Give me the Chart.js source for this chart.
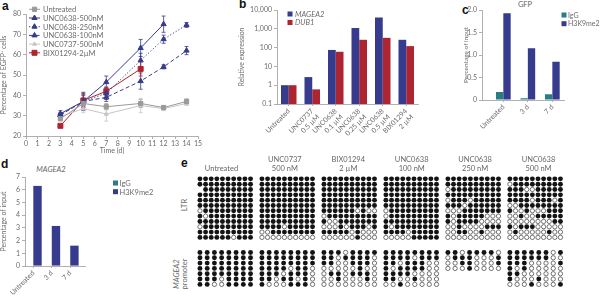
<!DOCTYPE html>
<html><head><meta charset="utf-8">
<script src="https://cdn.jsdelivr.net/npm/chart.js@4.4.0/dist/chart.umd.min.js"></script>
<style>
body{margin:0;width:600px;height:296px;position:relative;background:#fff;overflow:hidden;font-family:Lato,'Liberation Sans',sans-serif;}
canvas{position:absolute;}
.t{position:absolute;white-space:nowrap;color:#666;font-size:7.5px;line-height:9px;text-align:center;}
.L{position:absolute;font:bold 12px 'Liberation Sans',Arial,sans-serif;color:#111;line-height:12px;}
.rot{position:absolute;transform:rotate(-90deg);transform-origin:center center;white-space:nowrap;color:#666;font-size:7.5px;line-height:8px;text-align:center;}
</style></head><body>
<div class="L" style="left:2px;top:0px">a</div>
<div class="L" style="left:239px;top:-2px">b</div>
<div class="L" style="left:462px;top:4px">c</div>
<div class="L" style="left:1px;top:158px">d</div>
<div class="L" style="left:181px;top:157px">e</div>
<div class="t" style="left:510px;top:0px;width:30px">GFP</div>
<div class="t" style="left:30px;top:165px;width:42px;font-style:italic">MAGEA2</div>
<div class="rot" style="left:170px;top:201px;width:30px">LTR</div>
<div class="rot" style="left:151px;top:266px;width:60px"><i>MAGEA2</i><br>promoter</div>
<script>
// ---------- Panel a data ----------
const days = [3, 5, 7, 10, 12, 14];
const aNames = ['Untreated', 'UNC0638-500nM', 'UNC0638-250nM', 'UNC0638-100nM', 'UNC0737-500nM', 'BIX01294-2µM'];
const aUntreated = [28.5, 36, 34.4, 36, 34, 37];
const aUnc500 = [31, 37, 46.5, 63.3, 75, null];
const aUnc250 = [30.3, 37, 41, 57.2, 67.6, 74.6];
const aUnc100 = [30.3, 37, 39, 47, 54, 62];
const aUnc0737 = [29.5, 33.5, 30.8, 35, 33.5, 36];
const aBix = [25, 37.5, 42, 53, null, null];
const errUntreated = [1, 2, 1.5, 2, 1, 1.2];
const errUnc500 = [1.5, 4.5, 3, 4.2, 4, null];
const errUnc250 = [1, 4, 3, 3.5, 2, 1.2];
const errUnc100 = [1, 3, 2, 4, 1, 2];
const errUnc0737 = [1, 2, 3.5, 3.5, 1, 1];
const errBix = [0.5, 3, 2, 3.5, null, null];

// ---------- Panel b data ----------
const bCats = [['Untreated'], ['UNC0737', '0.5 µM'], ['UNC0638', '0.1 µM'], ['UNC0638', '0.25 µM'], ['UNC0638', '0.5 µM'], ['BIX01294', '2 µM']];
const bMagea2 = [1, 2.7, 75, 1100, 4000, 260];
const bDub1 = [1, 0.6, 60, 260, 330, 120];
const bTicks = [0.1, 1, 10, 100, 1000, 10000];

// ---------- Panel c data ----------
const cCats = ['Untreated', '3 d', '7 d'];
const cIgG = [0.18, 0.04, 0.13];
const cH3K9 = [1.93, 1.15, 0.85];

// ---------- Panel d data ----------
const dCats = ['Untreated', '3 d', '7 d'];
const dIgG = [0, 0, 0];
const dH3K9 = [6.3, 3.15, 1.6];

// ---------- Panel e data (1 = methylated, 0 = unmethylated, ' ' = no read) ----------
const eGroups = [['Untreated'], ['UNC0737', '500 nM'], ['BIX01294', '2 µM'], ['UNC0638', '100 nM'], ['UNC0638', '250 nM'], ['UNC0638', '500 nM']];
const eLTR = [
 ['1111111111','1111111111',' 111111111','1111111111','1111111111','1111111111','0111111111','1011111111','1111111111','0111111111','1111111111','1111110111'],
 ['1111111111','1111111111','1111111111','1111111111','1111111111','1111111111','1111111111','1111111111','1111111111','1111011111','0011111111','0000000000'],
 ['1111111111','1111111111','1111111111','1111111111','1111111111','1111111111','1111110100','0111111111','1001111111','0001011101','1111101000','0000001000'],
 ['1111111111','1111111111','1111111111','1111111111','1111111111','1111111111','0111111111','0111111111','1111111111','1011111111','1111011111','0000011111'],
 ['1111111111','1111111111','0111111111','1111111111','0111011111','1110111111','0001111111','1011111000','1011110000','0010000111','0011001000','0000000000'],
 ['1111111111','0111111111','1110011111','1111111111','1111011101','0011111111','1001000111','0010011111','0000000011','1011100000','0100000100','0000000000']
];
const eMAGEA2 = [
 ['11111111','11111111','11111111','11111111','11111111','11101111','11001111'],
 ['11111111','11111111','11111111','11110110','11101110','11011010','10001110'],
 ['11101111','11011110','11001110','00000100','01101110','00100010','00000000'],
 ['11111111','11110111','11011100','10111100','11110000','11001000','00100000'],
 ['11011110','01110001','00110001','00010000'],
 ['11111101','11111100','11100001','10100000','11000000','10001000','00010001']
];

Chart.defaults.font.family = "Lato, 'Liberation Sans', sans-serif";
Chart.defaults.font.size = 7;
Chart.defaults.color = '#6b6b6b';
Chart.defaults.animation = false;
Chart.defaults.responsive = false;
Chart.defaults.devicePixelRatio = 1;
Chart.defaults.plugins.legend.display = false;
Chart.defaults.plugins.tooltip.enabled = false;

const NAVY = '#363b8d', RED = '#ad2530', TEAL = '#2a7d84', GREY = '#9a9a9a', LGREY = '#c6c6c6', AX = '#9c9c9c';

function mk(left, top, w, h) {
  const c = document.createElement('canvas');
  c.width = w; c.height = h;
  c.style.left = left + 'px'; c.style.top = top + 'px';
  c.style.width = w + 'px'; c.style.height = h + 'px';
  document.body.appendChild(c);
  return c;
}
function grid(len) { return {drawOnChartArea: false, color: AX, tickLength: len, lineWidth: 0.8, offset: false}; }
const border = {color: AX, width: 0.8};

// ---------- Panel a ----------
const aSeries = [
  {vals: aUntreated, err: errUntreated, color: GREY, dash: [], marker: 'rect', r: 3},
  {vals: aUnc500, err: errUnc500, color: NAVY, dash: [], marker: 'triangle', r: 3},
  {vals: aUnc250, err: errUnc250, color: NAVY, dash: [1.2, 2], marker: 'triangle', r: 3},
  {vals: aUnc100, err: errUnc100, color: NAVY, dash: [4, 2.5], marker: 'triangle', r: 3},
  {vals: aUnc0737, err: errUnc0737, color: LGREY, dash: [], marker: 'triangle', r: 2.3},
  {vals: aBix, err: errBix, color: RED, dash: [], marker: 'rect', r: 3.5}
];
const errorBars = {
  id: 'errorBars',
  beforeDatasetsDraw(chart) {
    const {ctx, scales: {x, y}} = chart;
    chart.data.datasets.forEach(ds => {
      ctx.save(); ctx.strokeStyle = ds.borderColor; ctx.lineWidth = 0.8;
      ds.data.forEach(p => {
        if (p.e == null) return;
        const px = x.getPixelForValue(p.x), y1 = y.getPixelForValue(p.y - p.e), y2 = y.getPixelForValue(p.y + p.e);
        ctx.beginPath();
        ctx.moveTo(px, y1); ctx.lineTo(px, y2);
        ctx.moveTo(px - 2, y1); ctx.lineTo(px + 2, y1);
        ctx.moveTo(px - 2, y2); ctx.lineTo(px + 2, y2);
        ctx.stroke();
      });
      ctx.restore();
    });
  }
};
const legendA = {
  id: 'legendA',
  afterDraw(chart) {
    const ctx = chart.ctx;
    chart.data.datasets.forEach((ds, i) => {
      const y = 9.3 + i * 8.7;
      ctx.save();
      ctx.strokeStyle = ds.borderColor; ctx.fillStyle = ds.backgroundColor; ctx.lineWidth = 1;
      ctx.setLineDash(ds.borderDash);
      ctx.beginPath(); ctx.moveTo(29, y); ctx.lineTo(40, y); ctx.stroke();
      ctx.setLineDash([]);
      Chart.helpers.drawPoint(ctx, {pointStyle: ds.pointStyle, radius: ds.pointRadius, borderWidth: 1, rotation: 0}, 34.5, y);
      ctx.fillStyle = '#6b6b6b'; ctx.font = "7.5px Lato, 'Liberation Sans', sans-serif"; ctx.textBaseline = 'middle';
      ctx.fillText(aNames[i], 43, y + 0.5);
      ctx.restore();
    });
  }
};
new Chart(mk(0, 0, 205, 155), {
  type: 'line',
  data: {
    datasets: aSeries.map((s, i) => ({
      label: aNames[i],
      data: days.map((d, j) => s.vals[j] == null ? null : {x: d, y: s.vals[j], e: s.err[j]}).filter(Boolean),
      borderColor: s.color, backgroundColor: s.color, borderWidth: 1, borderDash: s.dash,
      pointStyle: s.marker, pointRadius: s.r, pointBorderWidth: 1, tension: 0
    }))
  },
  options: {
    layout: {padding: {top: 14, right: 7, left: 0, bottom: 0}},
    scales: {
      x: {type: 'linear', min: 0, max: 15, grid: grid(3), border,
          ticks: {stepSize: 1, autoSkip: false, maxRotation: 0, padding: 1},
          title: {display: true, text: 'Time (d)', padding: 0, font: {size: 7}},
          afterFit(s) { s.height = 19; }},
      y: {min: 20, max: 80, grid: grid(3), border,
          ticks: {stepSize: 10, padding: 2},
          title: {display: true, text: 'Percentage of EGFP⁺ cells', padding: 0, font: {size: 7}},
          afterFit(s) { s.width = 26; }}
    }
  },
  plugins: [errorBars, legendA]
});

// ---------- Panel b ----------
const legendB = {
  id: 'legendB',
  afterDraw(chart) {
    const ctx = chart.ctx;
    chart.data.datasets.forEach((ds, i) => {
      const y = 14 + i * 8.5;
      ctx.save();
      ctx.fillStyle = ds.backgroundColor; ctx.fillRect(49.5, y - 2.5, 5, 5);
      ctx.fillStyle = '#6b6b6b'; ctx.font = "italic 7.5px Lato, 'Liberation Sans', sans-serif"; ctx.textBaseline = 'middle';
      ctx.fillText(ds.label, 57, y + 0.5);
      ctx.restore();
    });
  }
};
new Chart(mk(238, 0, 185, 150), {
  type: 'bar',
  data: {
    labels: bCats,
    datasets: [
      {label: 'MAGEA2', data: bMagea2, backgroundColor: NAVY},
      {label: 'DUB1', data: bDub1, backgroundColor: RED}
    ]
  },
  options: {
    layout: {padding: {top: 10, right: 5, left: 0, bottom: 0}},
    datasets: {bar: {categoryPercentage: 0.66, barPercentage: 1}},
    scales: {
      x: {grid: grid(2), border, ticks: {autoSkip: false, minRotation: 45, maxRotation: 45, padding: 1},
          afterFit(s) { s.height = 46; }},
      y: {type: 'logarithmic', min: 0.1, max: 10000, grid: grid(3), border,
          afterBuildTicks(s) { s.ticks = bTicks.map(v => ({value: v})); },
          ticks: {padding: 2, callback: v => v >= 1000 ? v.toLocaleString('en-US') : String(v)},
          title: {display: true, text: 'Relative expression', padding: 0, font: {size: 7}},
          afterFit(s) { s.width = 39; }}
    }
  },
  plugins: [legendB]
});

// ---------- Panel c ----------
function legendRight(x0, y0, fs) {
  return {
    id: 'legR',
    afterDraw(chart) {
      const ctx = chart.ctx;
      chart.data.datasets.forEach((ds, i) => {
        const y = y0 + i * 8.7;
        ctx.save();
        ctx.fillStyle = ds.backgroundColor; ctx.fillRect(x0, y - 2.5, 5, 5);
        ctx.fillStyle = '#6b6b6b'; ctx.font = fs + "px Lato, 'Liberation Sans', sans-serif"; ctx.textBaseline = 'middle';
        ctx.fillText(ds.label, x0 + 6.5, y + 0.5);
        ctx.restore();
      });
    }
  };
}
new Chart(mk(462, 0, 138, 145), {
  type: 'bar',
  data: {
    datasets: [
      {label: 'IgG', data: cIgG.map((v, i) => ({x: i, y: v})), backgroundColor: TEAL},
      {label: 'H3K9me2', data: cH3K9.map((v, i) => ({x: i, y: v})), backgroundColor: NAVY}
    ]
  },
  options: {
    layout: {padding: {top: 10, right: 35.4, left: 0, bottom: 0}},
    datasets: {bar: {categoryPercentage: 0.6, barPercentage: 1}},
    scales: {
      x: {type: 'linear', offset: false, min: -0.87, max: 2.5, grid: grid(2), border,
          afterBuildTicks(s) { s.ticks = cCats.map((_, i) => ({value: i})); },
          ticks: {autoSkip: false, minRotation: 45, maxRotation: 45, padding: 1, callback: v => cCats[v]},
          afterFit(s) { s.height = 45; }},
      y: {min: 0, max: 2, grid: grid(3), border,
          ticks: {stepSize: 0.5, padding: 2, callback: v => v === 0 ? '0' : v.toFixed(1)},
          title: {display: true, text: 'Percentage of input', padding: 0, font: {size: 6.5}},
          afterFit(s) { s.width = 20; }}
    }
  },
  plugins: [legendRight(99.5, 15, 7)]
});

// ---------- Panel d ----------
new Chart(mk(0, 160, 170, 136), {
  type: 'bar',
  data: {
    datasets: [
      {label: 'IgG', data: dIgG.map((v, i) => ({x: i, y: v})), backgroundColor: TEAL},
      {label: 'H3K9me2', data: dH3K9.map((v, i) => ({x: i, y: v})), backgroundColor: NAVY}
    ]
  },
  options: {
    layout: {padding: {top: 17, right: 85, left: 0, bottom: 0}},
    datasets: {bar: {categoryPercentage: 0.91, barPercentage: 1}},
    scales: {
      x: {type: 'linear', offset: false, min: -0.45, max: 2.8, grid: grid(2), border,
          afterBuildTicks(s) { s.ticks = dCats.map((_, i) => ({value: i})); },
          ticks: {autoSkip: false, minRotation: 45, maxRotation: 45, padding: 1, callback: v => dCats[v]},
          afterFit(s) { s.height = 30; }},
      y: {min: 0, max: 7, grid: grid(3), border,
          ticks: {stepSize: 1, padding: 2},
          title: {display: true, text: 'Percentage of input', padding: 0, font: {size: 7}},
          afterFit(s) { s.width = 25; }}
    }
  },
  plugins: [legendRight(113, 23, 7.5)]
});

// ---------- Panel e ----------
const E_GROUP = 11.03, E_MSTEP = 9 / 7, E_MROW0 = 13.83;
const filled = [], open = [];
eLTR.forEach((g, gi) => g.forEach((row, r) => [...row].forEach((ch, c) => {
  if (ch === ' ') return;
  (ch === '1' ? filled : open).push({x: gi * E_GROUP + c, y: r});
})));
eMAGEA2.forEach((g, gi) => g.forEach((row, r) => [...row].forEach((ch, c) => {
  if (ch === ' ') return;
  (ch === '1' ? filled : open).push({x: gi * E_GROUP + c * E_MSTEP, y: E_MROW0 + r});
})));
new Chart(mk(185, 170, 415, 126), {
  type: 'scatter',
  data: {
    datasets: [
      {data: filled, pointRadius: 2.45, backgroundColor: '#141414', borderWidth: 0, pointBorderWidth: 0},
      {data: open, pointRadius: 2.15, backgroundColor: '#ffffff', borderColor: '#3a3a3a', pointBorderWidth: 0.7}
    ]
  },
  options: {
    layout: {padding: 0},
    scales: {
      x: {type: 'linear', display: false, min: -1.826, max: 70.35},
      y: {type: 'linear', display: false, min: -0.783, max: 21.13, reverse: true}
    }
  }
});
// headers of panel e
eGroups.forEach((lines, gi) => {
  const d = document.createElement('div');
  d.className = 't';
  d.style.width = '60px';
  d.style.left = (221.5 + gi * 63.4 - 30) + 'px';
  d.style.top = (lines.length === 1 ? 164 : 155) + 'px';
  d.innerHTML = lines.join('<br>');
  document.body.appendChild(d);
});
</script>
</body></html>
